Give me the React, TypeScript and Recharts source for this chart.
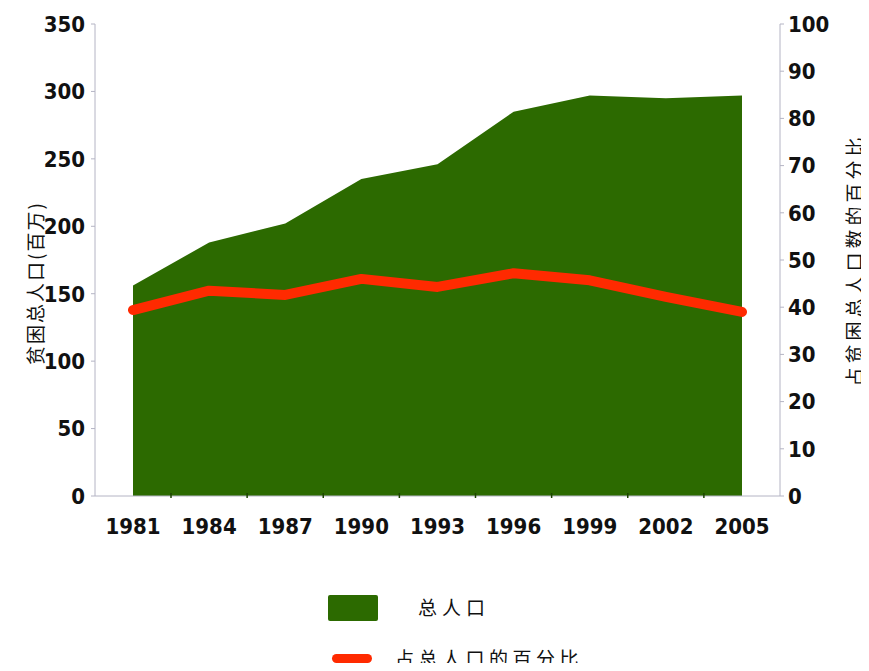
import React from 'react';
import { ComposedChart, Area, Line, XAxis, YAxis } from 'recharts';

// values
const years = ['1981', '1984', '1987', '1990', '1993', '1996', '1999', '2002', '2005'];
const totalPoor = [156, 188, 202, 235, 246, 285, 297, 295, 297]; // millions
const sharePct = [39.4, 43.5, 42.6, 46.0, 44.3, 47.2, 45.7, 42.2, 39.0]; // percent
const leftTicks = [0, 50, 100, 150, 200, 250, 300, 350];
const rightTicks = [0, 10, 20, 30, 40, 50, 60, 70, 80, 90, 100];

const leftTitle = '贫困总人口(百万)';
const rightTitle = '占贫困总人口数的百分比';
const areaName = '总人口';
const lineName = '占总人口的百分比';

const GREEN = '#2c6a00';
const RED = '#ff2a00';
const AXIS = '#b4b4c4';
const NUM_FONT = '"DejaVu Sans Condensed", "DejaVu Sans", sans-serif';
const CJK_FONT = '"Noto Sans CJK SC", sans-serif';

const data = years.map((year, i) => ({
  year,
  total: totalPoor[i],
  share: sharePct[i],
}));

const HALF_BAND = 38;

const YearTick = (props: any) => {
  const { x, y, payload, index } = props;
  return (
    <g>
      {index < years.length - 1 && (
        <line x1={x + HALF_BAND} x2={x + HALF_BAND} y1={y - 5} y2={y} stroke="#1c4400" strokeWidth={1.5} />
      )}
      <text x={x} y={y + 36} textAnchor="middle" fontFamily={NUM_FONT} fontWeight="bold" fontSize={22} fill="#111">
        {payload.value}
      </text>
    </g>
  );
};

const App: React.FC = () => {
  return (
    // cancel the body margin so the chart uses the full window
    <div style={{ position: 'relative', margin: -8, width: 869, height: 671, overflow: 'hidden', background: '#fff' }}>
      <ComposedChart
        width={869}
        height={556}
        data={data}
        margin={{ top: 24, right: 0, bottom: 0, left: 0 }}
      >
        <XAxis
          dataKey="year"
          padding={{ left: HALF_BAND, right: HALF_BAND }}
          height={60}
          stroke={AXIS}
          tickLine={false}
          tickSize={0}
          tick={<YearTick />}
          interval={0}
        />
        <XAxis
          xAxisId="top"
          dataKey="year"
          orientation="top"
          height={0}
          stroke={AXIS}
          tick={false}
          tickLine={false}
        />
        <YAxis
          yAxisId="left"
          width={95}
          domain={[0, 350]}
          ticks={leftTicks}
          interval={0}
          stroke={AXIS}
          tickSize={4}
          tickMargin={6}
          tick={{ fontFamily: NUM_FONT, fontWeight: 'bold', fontSize: 22, fill: '#111' }}
          label={({ viewBox }: any) => (
            <text
              transform={`translate(38, ${viewBox.y + viewBox.height / 2 + 23}) rotate(-90)`}
              textAnchor="middle"
              dominantBaseline="middle"
              fontFamily={CJK_FONT}
              fontSize={19}
              letterSpacing={2}
              fill="#111"
            >
              {leftTitle}
            </text>
          )}
        />
        <YAxis
          yAxisId="right"
          orientation="right"
          width={89}
          domain={[0, 100]}
          ticks={rightTicks}
          interval={0}
          stroke={AXIS}
          tickSize={4}
          tickMargin={4}
          tick={{ fontFamily: NUM_FONT, fontWeight: 'bold', fontSize: 22, fill: '#111', textAnchor: 'start' }}
          label={({ viewBox }: any) => (
            <text
              transform={`translate(857, ${viewBox.y + viewBox.height / 2}) rotate(-90)`}
              textAnchor="middle"
              dominantBaseline="middle"
              fontFamily={CJK_FONT}
              fontSize={19}
              letterSpacing={4}
              fill="#111"
            >
              {rightTitle}
            </text>
          )}
        />
        <Area
          yAxisId="left"
          dataKey="total"
          name={areaName}
          type="linear"
          fill={GREEN}
          fillOpacity={1}
          stroke="none"
          isAnimationActive={false}
        />
        <Line
          yAxisId="right"
          dataKey="share"
          name={lineName}
          type="linear"
          stroke={RED}
          strokeWidth={10}
          strokeLinecap="round"
          strokeLinejoin="round"
          dot={false}
          isAnimationActive={false}
        />
      </ComposedChart>

      {/* legend */}
      <div style={{ position: 'absolute', left: 328, top: 595, width: 50, height: 26, background: GREEN, borderRadius: 2 }} />
      <div
        style={{
          position: 'absolute',
          left: 418,
          top: 592,
          lineHeight: '30px',
          fontFamily: CJK_FONT,
          fontSize: 19,
          letterSpacing: 5,
          color: '#111',
        }}
      >
        {areaName}
      </div>
      <div style={{ position: 'absolute', left: 332, top: 654, width: 40, height: 9, background: RED, borderRadius: 5 }} />
      <div
        style={{
          position: 'absolute',
          left: 395,
          top: 643,
          lineHeight: '30px',
          fontFamily: CJK_FONT,
          fontSize: 19,
          letterSpacing: 4.5,
          color: '#111',
        }}
      >
        {lineName}
      </div>
    </div>
  );
};

export default App;
